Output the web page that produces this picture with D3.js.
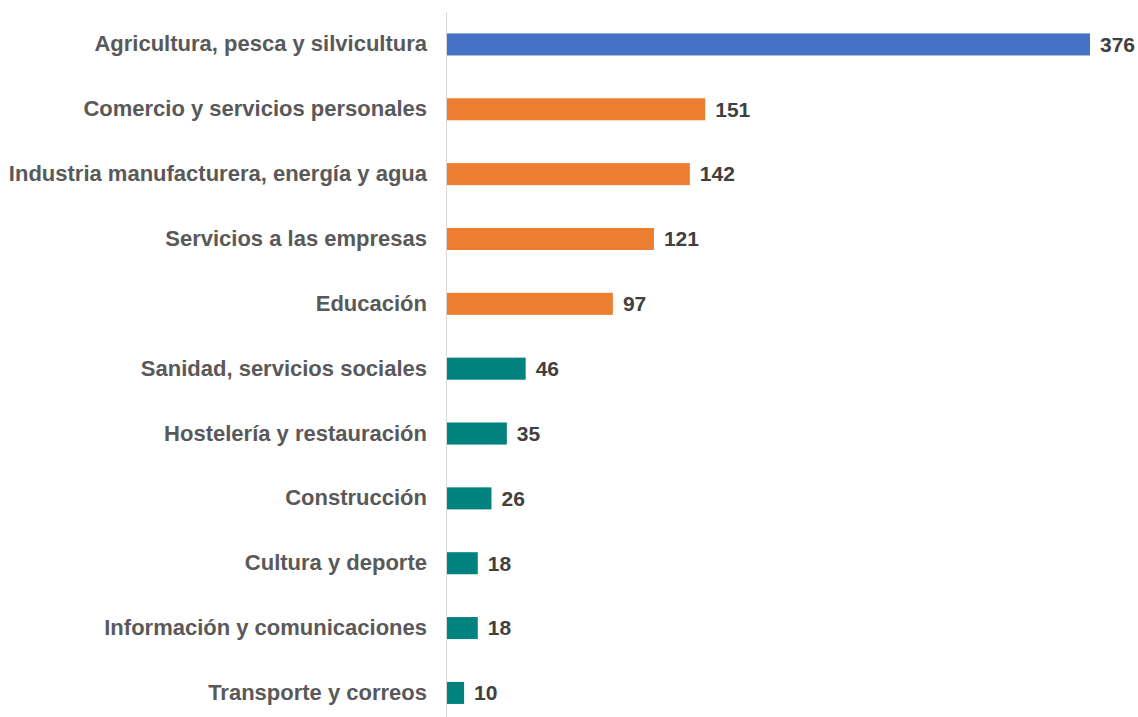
<!DOCTYPE html>
<html>
<head>
<meta charset="utf-8">
<script src="https://cdn.jsdelivr.net/npm/d3@7"></script>
<style>
  html, body { margin: 0; padding: 0; background: #fff; }
  svg { display: block; }
</style>
</head>
<body>
<svg id="chart" width="1138" height="717"></svg>
<script>
// Employment by sector (thousands)
const categories = [
  "Agricultura, pesca y silvicultura",
  "Comercio y servicios personales",
  "Industria manufacturera, energía y agua",
  "Servicios a las empresas",
  "Educación",
  "Sanidad, servicios sociales",
  "Hostelería y restauración",
  "Construcción",
  "Cultura y deporte",
  "Información y comunicaciones",
  "Transporte y correos"
];
const values = [376, 151, 142, 121, 97, 46, 35, 26, 18, 18, 10];
const groups = ["top", "mid", "mid", "mid", "mid", "low", "low", "low", "low", "low", "low"];

const groupColor = { top: "#4472C4", mid: "#ED7D31", low: "#00827F" };

const svg = d3.select("#chart");
const x0 = 447;

const x = d3.scaleLinear()
  .domain([0, 376])
  .range([x0, 1090]);

const y = d3.scaleBand()
  .domain(categories)
  .range([12, 12 + 64.85 * categories.length])
  .paddingInner(0.66)
  .paddingOuter(0.33);

// vertical category axis line
svg.append("line")
  .attr("x1", x0 - 0.5).attr("x2", x0 - 0.5)
  .attr("y1", 12).attr("y2", 717)
  .attr("stroke", "#d9d9d9")
  .attr("stroke-width", 1);

// bars
svg.selectAll("rect.bar")
  .data(values)
  .join("rect")
  .attr("class", "bar")
  .attr("x", x0)
  .attr("y", (d, i) => y(categories[i]))
  .attr("width", d => x(d) - x0)
  .attr("height", y.bandwidth())
  .attr("fill", (d, i) => groupColor[groups[i]]);

// category labels
const yAxis = d3.axisLeft(y).tickSize(0).tickPadding(0);
const gy = svg.append("g")
  .attr("transform", `translate(${427},0)`)
  .call(yAxis);
gy.select(".domain").remove();
gy.selectAll("text")
  .attr("fill", "#595959")
  .attr("font-family", "'Liberation Sans', Arial, sans-serif")
  .attr("font-weight", "bold")
  .attr("font-size", "22px");

// value labels
svg.selectAll("text.val")
  .data(values)
  .join("text")
  .attr("class", "val")
  .attr("x", d => x(d) + 10)
  .attr("y", (d, i) => y(categories[i]) + y.bandwidth() / 2)
  .attr("dy", "0.35em")
  .attr("fill", "#404040")
  .attr("font-family", "'Liberation Sans', Arial, sans-serif")
  .attr("font-weight", "bold")
  .attr("font-size", "21px")
  .text(d => d);
</script>
</body>
</html>
